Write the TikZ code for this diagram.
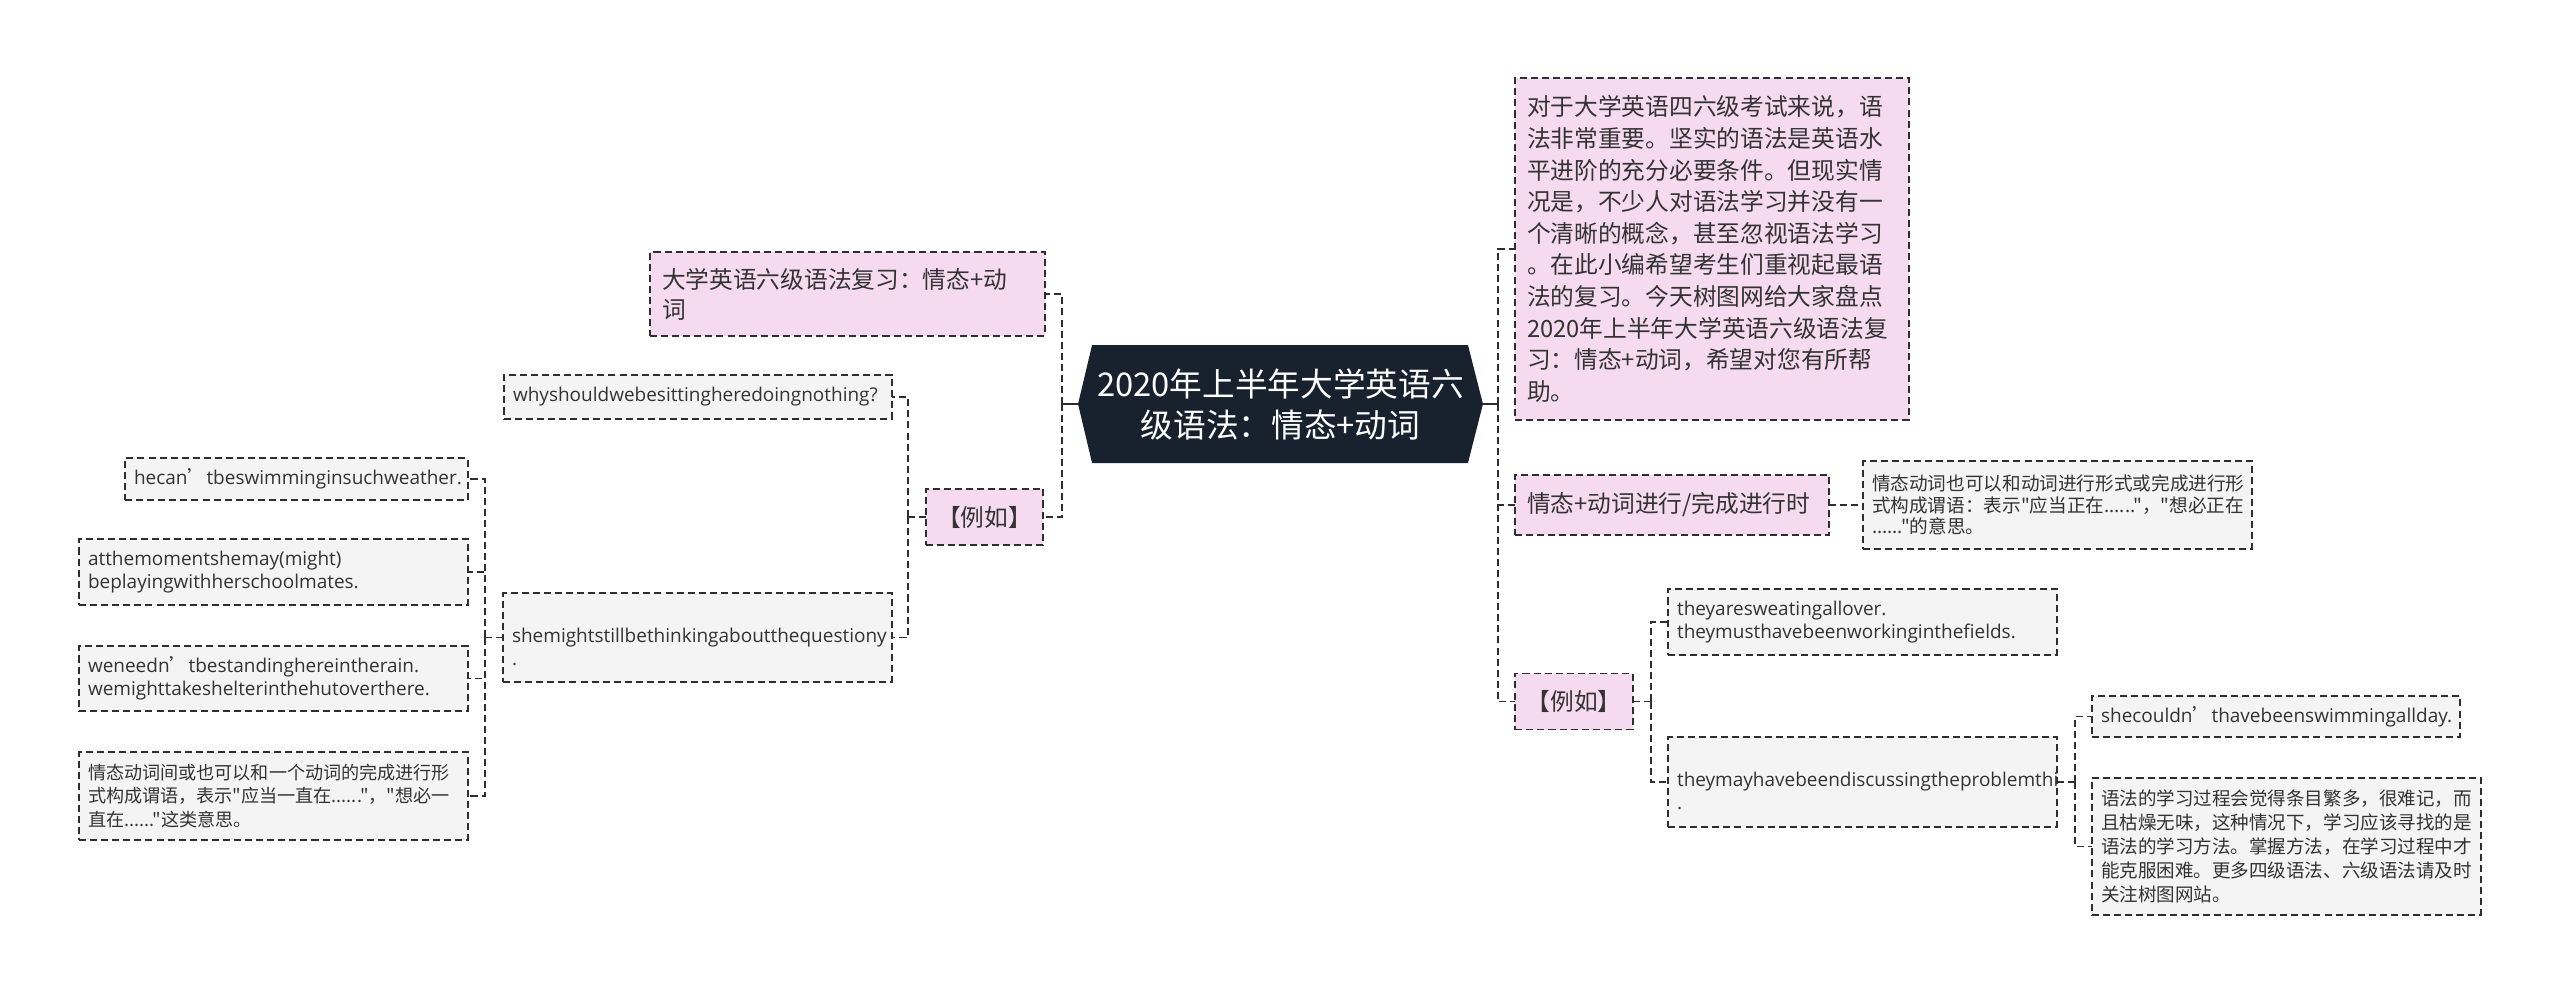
\documentclass[tikz,border=0pt]{standalone}
\usepackage{fontspec}
\setmainfont{Noto Sans CJK SC}
\newfontfamily\latinf{Open Sans}
\newfontfamily\cjkf{Noto Sans CJK SC}
\usepackage{xcolor}
\usetikzlibrary{calc,backgrounds,positioning}

\definecolor{rootc}{HTML}{18222F}
\definecolor{pinkc}{HTML}{F5DAF0}
\definecolor{greyc}{HTML}{F4F4F4}
\definecolor{linec}{HTML}{2E2E2E}
\definecolor{textc}{HTML}{333333}

\begin{document}
\begin{tikzpicture}[x=0.02cm, y=-0.02cm,
    every node/.style={outer sep=0pt, text=textc},
    rootnode/.style={inner sep=0pt, minimum width=8.1cm, minimum height=2.36cm, align=center, text=white, font=\fontsize{18.6pt}{23.3pt}\selectfont},
    pinkbox/.style={draw=linec, line width=1pt, dash pattern=on 4pt off 2.3pt, fill=pinkc, inner xsep=0.24cm, inner ysep=0pt, align=left, font=\fontsize{13.5pt}{17.2pt}\selectfont},
    exbox/.style={pinkbox, align=center, inner xsep=0pt, minimum width=2.35cm, minimum height=1.12cm},
    greybox/.style={draw=linec, line width=1pt, dash pattern=on 4pt off 2.3pt, fill=greyc, inner xsep=0.18cm, inner ysep=0pt, align=left, font=\latinf\fontsize{10.8pt}{13.1pt}\selectfont},
    cnbox/.style={greybox, font=\cjkf\fontsize{10.55pt}{13.7pt}\selectfont},
    link/.style={draw=linec, line width=1.1pt, dash pattern=on 4pt off 2.3pt},
    rootlink/.style={draw=linec, line width=1.4pt}]
    \useasboundingbox (0,0) rectangle (2560,995);

    % central topic
    \node[rootnode] (root) at (1280.5,404) {2020年上半年大学英语六\\级语法：情态+动词};
    \begin{scope}[on background layer]
        \fill[rootc] (root.west) -- ($(root.north west)+(14,0)$) -- ($(root.north east)+(-15,0)$)
            -- (root.east) -- ($(root.south east)+(-15,0)$) -- ($(root.south west)+(14,0)$) -- cycle;
    \end{scope}

    % left branch
    \node[pinkbox, text width=7.42cm, minimum height=1.68cm] (revtitle) at (847.5,294) {大学英语六级语法复习：情态+动\\词};
    \node[exbox] (leftex) at (984.5,517) {【例如】};
    \node[greybox, text width=7.4cm, minimum height=0.88cm] (why) at (698,397) {whyshouldwebesittingheredoingnothing?};
    \node[greybox, text width=7.42cm, minimum height=1.78cm] (thinking) at (697.5,637.5) {\strut\\shemightstillbethinkingaboutthequestiony\\.\strut};
    \node[greybox, text width=6.5cm, minimum height=0.84cm] (swimming) at (296.5,479) {hecan{\cjkf ’}tbeswimminginsuchweather.};
    \node[greybox, text width=7.42cm, minimum height=1.32cm] (playing) at (273.5,572) {atthemomentshemay(might)\\beplayingwithherschoolmates.};
    \node[greybox, text width=7.42cm, minimum height=1.3cm] (rain) at (273.5,678.5) {weneedn{\cjkf ’}tbestandinghereintherain.\\wemighttakeshelterinthehutoverthere.};
    \node[cnbox, text width=7.42cm, minimum height=1.76cm, font=\cjkf\fontsize{10.3pt}{13.4pt}\selectfont] (perfnote) at (273.5,796) {情态动词间或也可以和一个动词的完成进行形\\式构成谓语，表示"应当一直在......"，"想必一\\直在......"这类意思。};

    % right branch
    \node[pinkbox, text width=7.4cm, minimum height=6.84cm, font=\fontsize{13.5pt}{18pt}\selectfont] (intro) at (1712,249) {对于大学英语四六级考试来说，语\\法非常重要。坚实的语法是英语水\\平进阶的充分必要条件。但现实情\\况是，不少人对语法学习并没有一\\个清晰的概念，甚至忽视语法学习\\。在此小编希望考生们重视起最语\\法的复习。今天树图网给大家盘点\\2020年上半年大学英语六级语法复\\习：情态+动词，希望对您有所帮\\助。};
    \node[pinkbox, text width=5.8cm, minimum height=1.2cm] (progress) at (1672,505) {情态+动词进行/完成进行时};
    \node[cnbox, text width=7.42cm, minimum height=1.76cm, font=\cjkf\fontsize{10.6pt}{12.2pt}\selectfont] (prognote) at (2057.5,505) {情态动词也可以和动词进行形式或完成进行形\\式构成谓语：表示"应当正在......"，"想必正在\\......"的意思。};
    \node[exbox] (rightex) at (1574,701.5) {【例如】};
    \node[greybox, text width=7.42cm, minimum height=1.32cm] (sweating) at (1862.5,622) {theyaresweatingallover.\\theymusthavebeenworkinginthefields.};
    \node[greybox, text width=7.42cm, minimum height=1.8cm] (discussing) at (1862.5,782) {\strut\\theymayhavebeendiscussingtheproblemthi\\.\strut};
    \node[greybox, text width=7.0cm, minimum height=0.82cm] (allday) at (2276,716.5) {shecouldn{\cjkf ’}thavebeenswimmingallday.};
    \node[cnbox, text width=7.42cm, minimum height=2.74cm] (advice) at (2286.5,846.5) {语法的学习过程会觉得条目繁多，很难记，而\\且枯燥无味，这种情况下，学习应该寻找的是\\语法的学习方法。掌握方法，在学习过程中才\\能克服困难。更多四级语法、六级语法请及时\\关注树图网站。};

    % connectors
    \draw[rootlink] (root.west) -- ++(-16,0) coordinate (lbus);
    \draw[rootlink] (root.east) -- ++(15,0) coordinate (rbus);
    \draw[link] (lbus) |- (revtitle.east);
    \draw[link] (lbus) |- (leftex.east);
    \draw[link] (leftex.west) -- ++(-18,0) coordinate (exbus);
    \draw[link] (exbus) |- (why.east);
    \draw[link] (exbus) |- (thinking.east);
    \draw[link] (thinking.west) -- ++(-18,0) coordinate (thbus);
    \foreach \n in {swimming,playing,rain,perfnote}
        \draw[link] (thbus) |- (\n.east);
    \foreach \n in {intro,progress,rightex}
        \draw[link] (rbus) |- (\n.west);
    \draw[link] (progress) -- (prognote);
    \draw[link] (rightex.east) -- ++(18,0) coordinate (rexbus);
    \foreach \n in {sweating,discussing}
        \draw[link] (rexbus) |- (\n.west);
    \draw[link] (discussing.east) -- ++(18,0) coordinate (dbus);
    \foreach \n in {allday,advice}
        \draw[link] (dbus) |- (\n.west);
\end{tikzpicture}
\end{document}
